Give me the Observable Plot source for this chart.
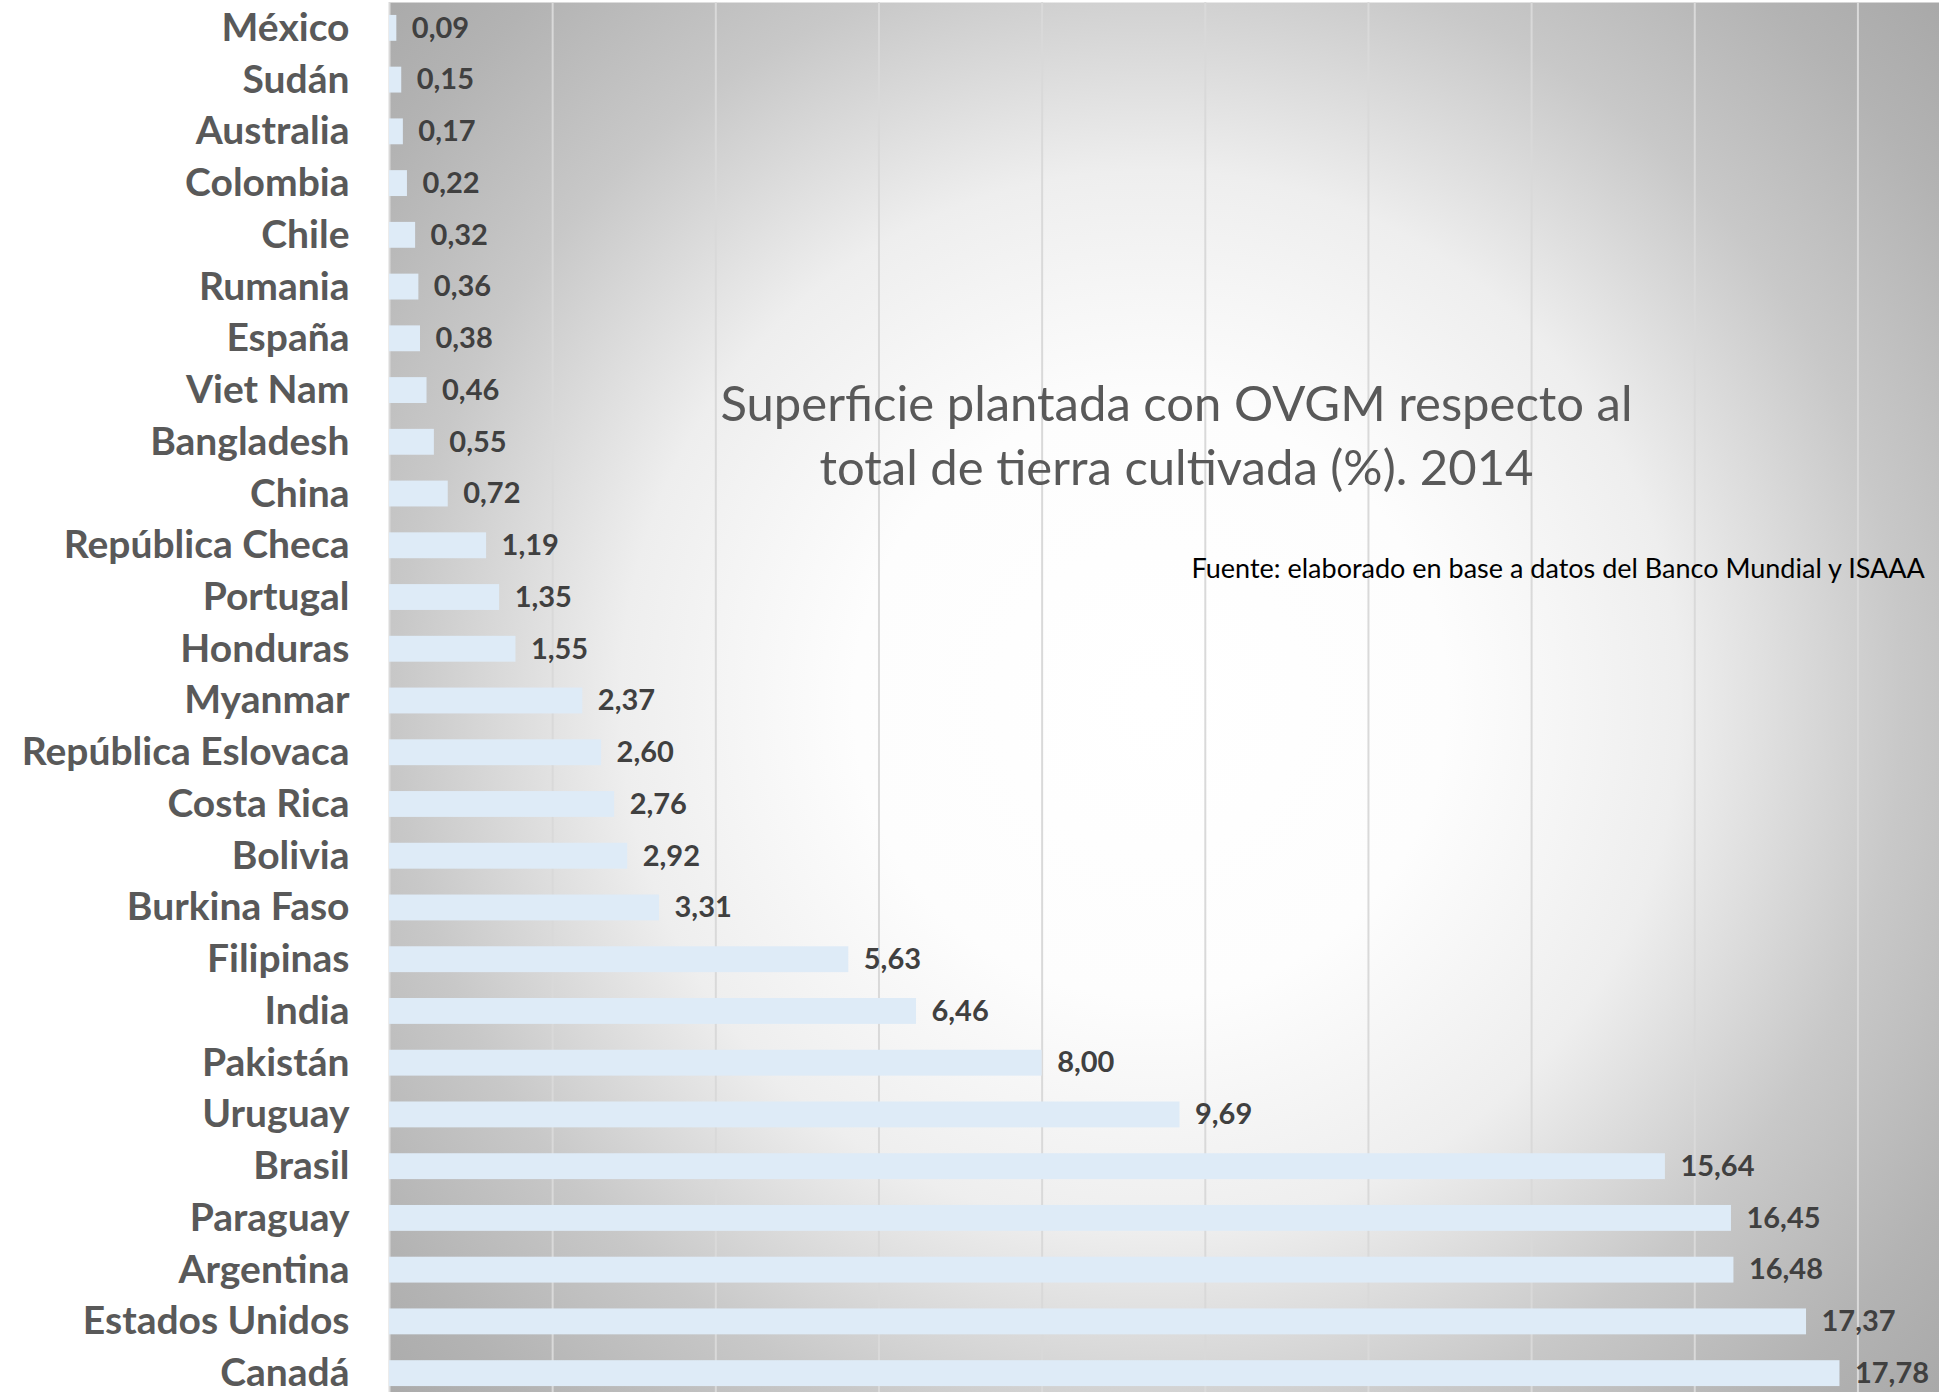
<!DOCTYPE html>
<html>
<head>
<meta charset="utf-8">
<script src="https://cdn.jsdelivr.net/npm/d3@7"></script>
<script src="https://cdn.jsdelivr.net/npm/@observablehq/plot@0.6"></script>
<style>
  html, body { margin: 0; padding: 0; background: #ffffff; }
  #chart svg { display: block; }
</style>
</head>
<body>
<div id="chart"></div>
<script>
const countries = ["México","Sudán","Australia","Colombia","Chile","Rumania","España","Viet Nam","Bangladesh","China","República Checa","Portugal","Honduras","Myanmar","República Eslovaca","Costa Rica","Bolivia","Burkina Faso","Filipinas","India","Pakistán","Uruguay","Brasil","Paraguay","Argentina","Estados Unidos","Canadá"];
const values = [0.09,0.15,0.17,0.22,0.32,0.36,0.38,0.46,0.55,0.72,1.19,1.35,1.55,2.37,2.60,2.76,2.92,3.31,5.63,6.46,8.00,9.69,15.64,16.45,16.48,17.37,17.78];
const gridTicks = [0,2,4,6,8,10,12,14,16,18];
const titleLines = ["Superficie plantada con OVGM respecto al", "total de tierra cultivada (%). 2014"];
const sourceText = "Fuente: elaborado en base a datos del Banco Mundial y ISAAA";

const data = countries.map((c, i) => ({country: c, value: values[i]}));
const fmt = v => v.toFixed(2).replace(".", ",");

const W = 1939, H = 1392, ML = 389;

const chart = Plot.plot({
  width: W,
  height: H,
  marginLeft: ML,
  marginRight: 0,
  marginTop: 2,
  marginBottom: 0,
  style: {fontFamily: "Lato, sans-serif", background: "transparent", overflow: "visible"},
  x: {domain: [0, 19], axis: null},
  y: {domain: countries, range: [2, 1399], paddingInner: 0.5, paddingOuter: 0.25, round: false, label: null},
  marks: [
    Plot.frame({fill: "#cccccc", stroke: "none"}),
    Plot.ruleX(gridTicks, {stroke: "#d9d9d9", strokeWidth: 2}),
    Plot.barX(data, {x: "value", y: "country", fill: "#deebf7"}),
    Plot.text(data, {x: "value", y: "country", text: d => fmt(d.value), textAnchor: "start", dx: 15, fill: "#404040", fontWeight: "bold", fontSize: 29}),
    Plot.axisY({tickSize: 0, tickPadding: 40, fontSize: 39, fontWeight: "bold", fill: "#595959", label: null}),
    Plot.text([titleLines[0]], {frameAnchor: "top-left", dx: 1176 - ML, dy: 386 - 2, textAnchor: "middle", fill: "#595959", fontSize: 49}),
    Plot.text([titleLines[1]], {frameAnchor: "top-left", dx: 1176 - ML, dy: 450 - 2, textAnchor: "middle", fill: "#595959", fontSize: 49}),
    Plot.text([sourceText], {frameAnchor: "top-left", dx: 1191 - ML, dy: 558 - 2, textAnchor: "start", fill: "#000000", fontSize: 27})
  ]
});

// radial background gradient for the plot area
const svg = d3.select(chart);
const defs = svg.insert("defs", ":first-child");
const grad = defs.append("radialGradient")
  .attr("id", "bg")
  .attr("gradientUnits", "userSpaceOnUse")
  .attr("cx", 1150).attr("cy", 700).attr("r", 1060);
[[0, "#ffffff"], [0.28, "#fdfdfd"], [0.5, "#eeeeee"], [0.71, "#c8c8c8"], [0.88, "#b3b3b3"], [1, "#a8a8a8"]]
  .forEach(([o, c]) => grad.append("stop").attr("offset", o).attr("stop-color", c));
svg.selectAll('[aria-label="frame"]').each(function() {
  const el = d3.select(this);
  if (this.tagName.toLowerCase() === "rect") el.attr("fill", "url(#bg)");
  el.selectAll("rect").attr("fill", "url(#bg)");
});

document.getElementById("chart").appendChild(chart);
</script>
</body>
</html>
